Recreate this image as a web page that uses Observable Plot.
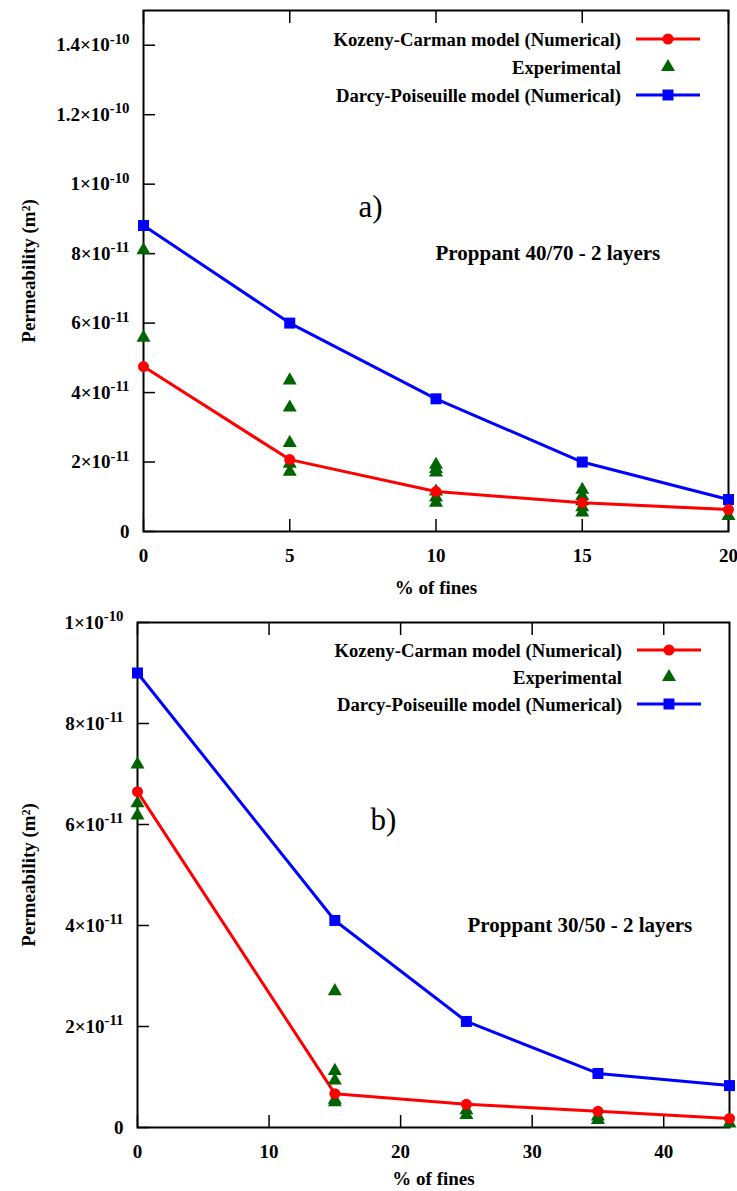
<!DOCTYPE html>
<html><head><meta charset="utf-8">
<script src="https://cdn.jsdelivr.net/npm/d3@7"></script>
<script src="https://cdn.jsdelivr.net/npm/@observablehq/plot@0.6"></script>
<style>
body{margin:0;background:#fff}
svg{display:block}
</style>
</head><body><div id="chart"></div>
<script>
// ---- Panel a) Proppant 40/70 ----
const finesA = [0, 5, 10, 15, 20];
const kozenyA = [4.75e-11, 2.07e-11, 1.15e-11, 0.83e-11, 0.63e-11];
const darcyA = [8.81e-11, 6.0e-11, 3.82e-11, 2.0e-11, 0.92e-11];
const expFinesA = [0, 0, 5, 5, 5, 5, 5, 10, 10, 10, 10, 10, 10, 15, 15, 15, 15, 15, 20];
const expPermA = [8.1e-11, 5.58e-11, 4.35e-11, 3.57e-11, 2.55e-11, 1.95e-11, 1.72e-11,
  1.92e-11, 1.8e-11, 1.7e-11, 1.15e-11, 0.98e-11, 0.83e-11,
  1.2e-11, 1.02e-11, 0.87e-11, 0.7e-11, 0.55e-11, 0.45e-11];
const xTicksA = [0, 5, 10, 15, 20];
const yTicksA = [0, 2e-11, 4e-11, 6e-11, 8e-11, 1e-10, 1.2e-10, 1.4e-10];
const yLabelsA = ["0", "2×10^-11", "4×10^-11", "6×10^-11", "8×10^-11", "1×10^-10", "1.2×10^-10", "1.4×10^-10"];

// ---- Panel b) Proppant 30/50 ----
const finesB = [0, 15, 25, 35, 45];
const kozenyB = [6.65e-11, 0.67e-11, 0.46e-11, 0.32e-11, 0.18e-11];
const darcyB = [9.0e-11, 4.1e-11, 2.1e-11, 1.07e-11, 0.83e-11];
const expFinesB = [0, 0, 0, 15, 15, 15, 15, 15, 25, 25, 35, 35, 45];
const expPermB = [7.19e-11, 6.42e-11, 6.18e-11, 2.7e-11, 1.12e-11, 0.93e-11, 0.55e-11, 0.5e-11,
  0.34e-11, 0.25e-11, 0.22e-11, 0.15e-11, 0.08e-11];
const xTicksB = [0, 10, 20, 30, 40];
const yTicksB = [0, 2e-11, 4e-11, 6e-11, 8e-11, 1e-10];
const yLabelsB = ["0", "2×10^-11", "4×10^-11", "6×10^-11", "8×10^-11", "1×10^-10"];

const seriesNames = ["Kozeny-Carman model (Numerical)", "Experimental", "Darcy-Poiseuille model (Numerical)"];
const RED = "#ff0000", BLUE = "#0000ff", GREEN = "#006400";
const FONT = "'Liberation Serif', 'Times New Roman', serif";
const FS = 19;
const R_TRI = 5.2, R_SQ = 6.2, R_CIR = 5.5;

function panel(o) {
  const kc = o.fines.map((f, i) => ({x: f, y: o.kozeny[i]}));
  const dp = o.fines.map((f, i) => ({x: f, y: o.darcy[i]}));
  const ex = o.expX.map((f, i) => ({x: f, y: o.expY[i]}));
  const fmtY = d => { const i = o.yTicks.findIndex(t => Math.abs(t - d) < 1e-15); return i < 0 ? "" : o.yLabels[i]; };
  const plot = Plot.plot({
    width: 737, height: o.height,
    marginTop: o.marginTop, marginLeft: o.marginLeft, marginRight: o.marginRight, marginBottom: 64,
    x: {domain: o.xDomain},
    y: {domain: o.yDomain},
    style: {fontFamily: FONT, fontWeight: "bold", fontSize: FS + "px", color: "#000", background: "#fff", overflow: "visible"},
    marks: [
      Plot.frame({stroke: "#000", strokeWidth: 2}),
      Plot.axisX({ticks: o.xTicks, tickSize: -12, tickFormat: () => "", label: null, strokeWidth: 1.5}),
      Plot.axisX({anchor: "top", ticks: o.xTicks, tickSize: -12, tickFormat: () => "", label: null, strokeWidth: 1.5}),
      Plot.axisX({ticks: o.xTicks, tickSize: 0, tickPadding: 17, label: null, fontSize: FS}),
      Plot.axisY({ticks: o.yTicks, tickSize: -12, tickFormat: () => "", label: null, strokeWidth: 1.5}),
      Plot.axisY({ticks: o.yTicks, tickSize: 0, tickPadding: 14, tickFormat: fmtY, label: null, fontSize: FS}),
      Plot.text(["% of fines"], {frameAnchor: "bottom", dy: o.xLabelDy, lineAnchor: "middle", textAnchor: "middle", fontSize: FS, fontWeight: "bold"}),
      Plot.text(["Permeability (m²)"], {frameAnchor: "left", dx: -o.marginLeft + 28, rotate: -90, textAnchor: "middle", lineAnchor: "middle", fontSize: FS, fontWeight: "bold"}),
      Plot.text([o.tag], {frameAnchor: "top-left", dx: o.tagDx, dy: o.tagDy, lineAnchor: "middle", fontSize: 31, fontWeight: "normal", textAnchor: "start"}),
      Plot.text([o.note], {frameAnchor: "top-left", dx: o.noteDx, dy: o.noteDy, lineAnchor: "middle", fontSize: 21, fontWeight: "bold", textAnchor: "start"}),
      Plot.line(dp, {x: "x", y: "y", stroke: BLUE, strokeWidth: 3}),
      Plot.line(kc, {x: "x", y: "y", stroke: RED, strokeWidth: 3}),
      Plot.dot(ex, {x: "x", y: "y", symbol: "triangle", fill: GREEN, r: R_TRI}),
      Plot.dot(dp, {x: "x", y: "y", symbol: "square", fill: BLUE, r: R_SQ}),
      Plot.dot(kc, {x: "x", y: "y", symbol: "circle", fill: RED, r: R_CIR})
    ]
  });
  // superscripts in tick labels
  d3.select(plot).selectAll('g[aria-label="y-axis tick label"] text').each(function() {
    const t = this.textContent;
    if (t.includes("^")) {
      const [base, exp] = t.split("^");
      const sel = d3.select(this);
      sel.text(base);
      sel.append("tspan").attr("dy", "-0.5em").attr("font-size", "0.78em").text(exp);
    }
  });
  // legend (top-right inside the frame)
  const g = d3.select(plot).append("g").attr("font-family", FONT).attr("font-weight", "bold").attr("font-size", 18.7);
  const cols = [RED, GREEN, BLUE];
  const syms = [d3.symbolCircle, d3.symbolTriangle, d3.symbolSquare];
  const sizes = [Math.PI * R_CIR * R_CIR, Math.PI * R_TRI * R_TRI, Math.PI * R_SQ * R_SQ];
  seriesNames.forEach((name, i) => {
    const y = o.legendY + i * o.legendStep;
    g.append("text").attr("x", o.legendTextX).attr("y", y).attr("dy", "0.35em").attr("text-anchor", "end").text(name);
    if (i !== 1) g.append("line").attr("x1", o.legendTextX + 15).attr("x2", o.legendTextX + 79).attr("y1", y).attr("y2", y).attr("stroke", cols[i]).attr("stroke-width", 3);
    g.append("path").attr("transform", `translate(${o.legendTextX + 47},${y})`).attr("d", d3.symbol(syms[i], sizes[i])()).attr("fill", cols[i]);
  });
  return plot;
}

const chart = document.getElementById("chart");
chart.append(panel({
  fines: finesA, kozeny: kozenyA, darcy: darcyA, expX: expFinesA, expY: expPermA,
  xTicks: xTicksA, yTicks: yTicksA, yLabels: yLabelsA,
  xDomain: [0, 20], yDomain: [0, 1.5e-10],
  height: 595, marginTop: 10, marginLeft: 143, marginRight: 9, xLabelDy: 56,
  tag: "a)", tagDx: 215, tagDy: 197, note: "Proppant 40/70 - 2 layers", noteDx: 292, noteDy: 243,
  legendY: 39, legendStep: 28, legendTextX: 621
}));
chart.append(panel({
  fines: finesB, kozeny: kozenyB, darcy: darcyB, expX: expFinesB, expY: expPermB,
  xTicks: xTicksB, yTicks: yTicksB, yLabels: yLabelsB,
  xDomain: [0, 45], yDomain: [0, 1e-10],
  height: 596, marginTop: 27, marginLeft: 137, marginRight: 8, xLabelDy: 51,
  tag: "b)", tagDx: 233, tagDy: 198, note: "Proppant 30/50 - 2 layers", noteDx: 330, noteDy: 303,
  legendY: 55, legendStep: 27, legendTextX: 622
}));
</script>
</body></html>
